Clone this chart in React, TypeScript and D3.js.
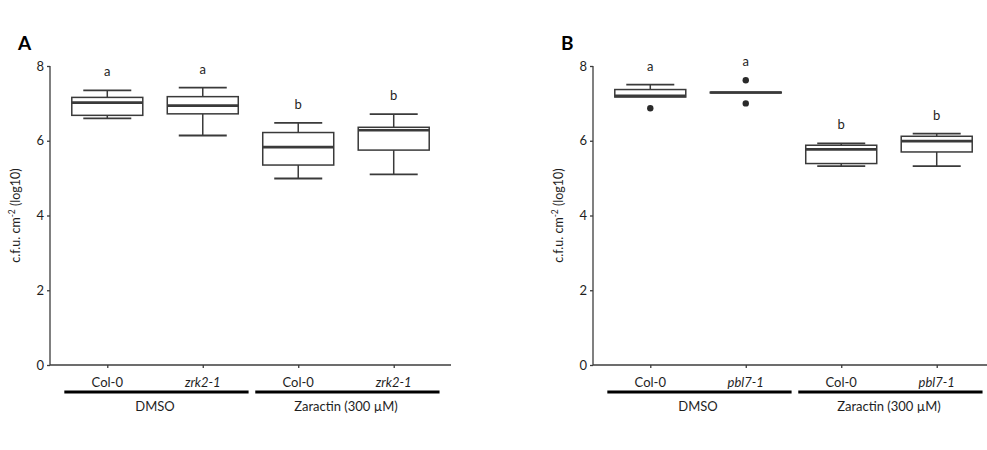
import React, { useRef, useEffect } from 'react'
import * as d3 from 'd3'

// x categories (same layout in both panels)
const genotypesA = ['Col-0', 'zrk2-1', 'Col-0', 'zrk2-1']
const genotypesB = ['Col-0', 'pbl7-1', 'Col-0', 'pbl7-1']
const italicA = [false, true, false, true]
const treatments = ['DMSO', 'Zaractin (300 µM)']
const yTicks = [0, 2, 4, 6, 8]

// panel A box stats
const lowA = [6.6, 6.14, 4.99, 5.1]
const q1A = [6.68, 6.72, 5.35, 5.75]
const medA = [7.02, 6.94, 5.83, 6.28]
const q3A = [7.16, 7.18, 6.22, 6.36]
const highA = [7.35, 7.42, 6.48, 6.71]
const lettersA = ['a', 'a', 'b', 'b']
const outliersA: number[][] = [[], [], [], []]

// panel B box stats
const lowB = [7.17, 7.28, 5.32, 5.32]
const q1B = [7.17, 7.28, 5.39, 5.7]
const medB = [7.2, 7.29, 5.77, 5.99]
const q3B = [7.37, 7.3, 5.88, 6.12]
const highB = [7.5, 7.3, 5.93, 6.19]
const lettersB = ['a', 'a', 'b', 'b']
const outliersB = [[6.87], [7.62, 7.0], [], []]

const FONT = 'Lato, "Open Sans", sans-serif'
const AXIS = '#3c3c3c'
const TXT = '#1e1e1e'

const drawPanel = (svg, opts) => {
  const { x0, label, names, low, q1, med, q3, high, letters, outliers } = opts
  const g = svg.append('g')
  const left = x0
  const right = x0 + 401
  const top = 66
  const bottom = 365

  const x = d3.scalePoint().domain(d3.range(names.length)).range([left, right]).padding(0.6)
  const y = d3.scaleLinear().domain([0, 8]).range([bottom, top])
  const step = x.step()
  const boxW = 71

  // panel letter
  g.append('text').attr('x', x0 - 32).attr('y', 50).text(label)
    .style('font-family', FONT).style('font-weight', 'bold').style('font-size', '19px')

  // y axis
  const yAxis = g.append('g').attr('transform', `translate(${left},0)`)
    .call(d3.axisLeft(y).tickValues(yTicks).tickSize(3).tickPadding(3).tickFormat(d3.format('d')))
  yAxis.select('.domain').attr('d', `M0,${top}V${bottom}`)
  // x axis
  const xAxis = g.append('g').attr('transform', `translate(0,${bottom})`)
    .call(d3.axisBottom(x).tickSize(3).tickFormat(() => ''))
  xAxis.select('.domain').attr('d', `M${left},0H${right}`)
  svg.selectAll('.domain, .tick line').attr('stroke', AXIS).attr('stroke-width', 1.3)
  svg.selectAll('.tick text').style('font-family', FONT).style('font-size', '13px').attr('fill', TXT)

  // y label
  const yl = g.append('text')
    .attr('transform', `translate(${x0 - 30},${(top + bottom) / 2}) rotate(-90)`)
    .attr('text-anchor', 'middle')
    .style('font-family', FONT).style('font-size', '12.5px').attr('fill', TXT)
  yl.append('tspan').text('c.f.u. cm')
  yl.append('tspan').text('-2').attr('dy', -5).style('font-size', '8.5px')
  yl.append('tspan').text(' (log10)').attr('dy', 5)

  // boxes
  names.forEach((n, i) => {
    const cx = x(i)
    const bg = g.append('g').attr('stroke', '#3a3a3a')
    bg.append('line').attr('x1', cx).attr('x2', cx).attr('y1', y(high[i])).attr('y2', y(q3[i])).attr('stroke-width', 1.5)
    bg.append('line').attr('x1', cx).attr('x2', cx).attr('y1', y(q1[i])).attr('y2', y(low[i])).attr('stroke-width', 1.5)
    if (high[i] > q3[i])
      bg.append('line').attr('x1', cx - 24).attr('x2', cx + 24).attr('y1', y(high[i])).attr('y2', y(high[i])).attr('stroke-width', 1.8)
    if (low[i] < q1[i])
      bg.append('line').attr('x1', cx - 24).attr('x2', cx + 24).attr('y1', y(low[i])).attr('y2', y(low[i])).attr('stroke-width', 1.8)
    bg.append('rect').attr('x', cx - boxW / 2).attr('width', boxW)
      .attr('y', y(q3[i])).attr('height', Math.max(0, y(q1[i]) - y(q3[i])))
      .attr('fill', 'white').attr('stroke-width', 1.5)
    bg.append('line').attr('x1', cx - boxW / 2).attr('x2', cx + boxW / 2)
      .attr('y1', y(med[i])).attr('y2', y(med[i])).attr('stroke-width', 2.6)
    outliers[i].forEach(o => {
      g.append('circle').attr('cx', cx).attr('cy', y(o)).attr('r', 3.2).attr('fill', '#2a2a2a')
    })
    const topVal = d3.max([high[i], ...outliers[i]])
    g.append('text').attr('x', cx).attr('y', y(topVal) - 14).attr('text-anchor', 'middle').text(letters[i])
      .style('font-family', FONT).style('font-size', '13px').attr('fill', TXT)

    // genotype label
    g.append('text').attr('x', cx).attr('y', 387).attr('text-anchor', 'middle').text(n)
      .style('font-family', FONT).style('font-size', '13px').attr('fill', TXT)
      .style('font-style', italicA[i] ? 'italic' : 'normal')
  })

  // treatment bars
  treatments.forEach((t, j) => {
    const a = x(j * 2)
    const b = x(j * 2 + 1)
    g.append('line').attr('x1', a - step * 0.45).attr('x2', b + step * 0.48)
      .attr('y1', 392).attr('y2', 392).attr('stroke', 'black').attr('stroke-width', 3)
    g.append('text').attr('x', (a + b) / 2).attr('y', 411).attr('text-anchor', 'middle').text(t)
      .style('font-family', FONT).style('font-size', '13px').attr('fill', TXT)
  })
}

export default function App() {
  const ref = useRef(null)

  useEffect(() => {
    const svg = d3.select(ref.current)
    svg.selectAll('*').remove()
    svg.append('rect').attr('width', 987).attr('height', 450).attr('fill', 'white')
    drawPanel(svg, {
      x0: 50, label: 'A', names: genotypesA,
      low: lowA, q1: q1A, med: medA, q3: q3A, high: highA, letters: lettersA, outliers: outliersA,
    })
    drawPanel(svg, {
      x0: 593, label: 'B', names: genotypesB,
      low: lowB, q1: q1B, med: medB, q3: q3B, high: highB, letters: lettersB, outliers: outliersB,
    })
  }, [])

  return (
    <svg
      ref={ref}
      width={987}
      height={450}
      style={{ position: 'absolute', left: 0, top: 0, display: 'block' }}
    />
  )
}
